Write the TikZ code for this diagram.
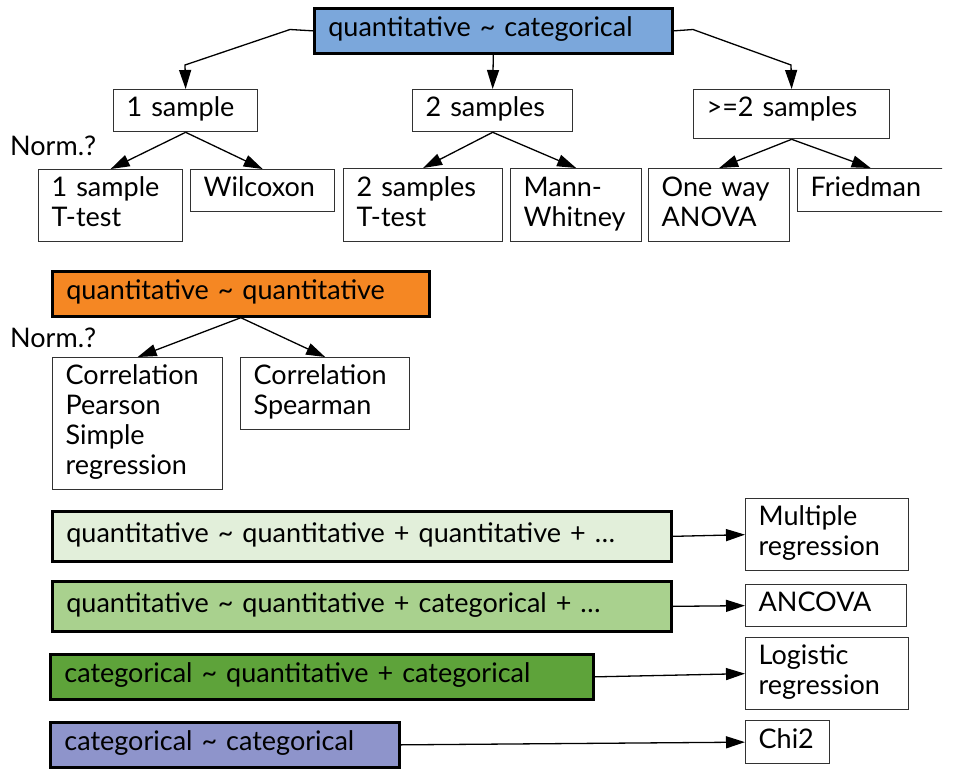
\documentclass[tikz,border=0pt]{standalone}
\usepackage{fontspec}
\setmainfont{Lato}
\usetikzlibrary{arrows.meta}
\definecolor{cblue}{RGB}{123,167,219}
\definecolor{corange}{RGB}{245,135,35}
\definecolor{cgreenA}{RGB}{226,239,218}
\definecolor{cgreenB}{RGB}{169,209,142}
\definecolor{cgreenC}{RGB}{94,163,58}
\definecolor{cpurple}{RGB}{142,148,203}
\definecolor{linec}{RGB}{50,50,50}
\begin{document}
\begin{tikzpicture}[x=1pt,y=-1pt,
  every node/.style={font=\fontsize{27}{30}\selectfont},
  bx/.style n args={3}{draw=linec, line width=1.3pt, anchor=north west,
    minimum width=#1pt, minimum height=#2pt, text width=#3pt,
    inner xsep=13pt, inner ysep=6pt, align=left,
    execute at begin node=\strut, execute at end node=\strut},
  hd/.style={bx={#1}{45}{#1-28}, draw=black, line width=2.7pt, inner xsep=14pt},
  arr/.style={draw=black, line width=1.3pt, -{Triangle[length=19pt,width=12pt]}},
  lbl/.style={anchor=base west, inner sep=0pt}
]
\useasboundingbox (0,0) rectangle (962,772);

% top branch
\node[hd={358}, fill=cblue, text width=330pt] (qc) at (313,7) {quantitative \textasciitilde{} categorical};
\node[bx={144}{42}{118}] (s1) at (113,89) {1 sample};
\node[bx={160}{42}{134}] (s2) at (412,89) {2 samples};
\node[bx={196}{49}{170}, text depth=16pt] (s3) at (693,89) {>=2 samples};

\node[bx={144}{72}{118}] (t1) at (38,169) {1 sample\\T-test};
\node[bx={144}{41}{118}] (wil) at (190,169) {Wilcoxon};
\node[bx={159}{73}{133}] (t2) at (343,168) {2 samples\\T-test};
\node[bx={131}{73}{105}] (mw) at (510,168) {Mann-\\Whitney};
\node[bx={141}{73}{115}] (anova) at (648,168) {One way\\ANOVA};
\begin{scope}
\clip (0,0) rectangle (942,772);
\node[bx={146}{43}{120}] (fried) at (797,168) {Friedman};
\end{scope}

\node[lbl] (norm1) at (10,155) {Norm.?};

\coordinate (c1a) at (290,29.5);
\coordinate (c1b) at (185,65);
\coordinate (c3a) at (693,29.5);
\coordinate (c3b) at (791,65);
\draw[arr] (qc.west) -- (c1a) -- (c1b) -- (s1.north);
\draw[arr] (qc.south) -- (s2.north);
\draw[arr] (qc.east) -- (c3a) -- (c3b) -- (s3.north);

\draw[arr] (s1.south) -- (t1.north);
\draw[arr] (s1.south) -- (wil.north);
\draw[arr] (s2.south) -- (t2.north);
\draw[arr] (s2.south) -- (mw.north);
\draw[arr] (s3.south) -- (anova.north);
\draw[arr] (s3.south) -- (fried.north);

% quantitative ~ quantitative
\node[hd={377}, fill=corange, text width=349pt] (qq) at (51,270) {quantitative \textasciitilde{} quantitative};
\node[lbl] (norm2) at (10,347) {Norm.?};
\node[bx={170}{132}{144}] (pear) at (52,357) {Correlation\\Pearson\\Simple\\regression};
\node[bx={169}{71}{143}] (spear) at (240,357) {Correlation\\Spearman};
\draw[arr] (qq.south) -- (pear.north);
\draw[arr] (qq.south) -- (spear.north);

% bottom rows
\node[hd={619}, minimum height=50pt, fill=cgreenA, text width=591pt] (m1) at (51,510) {quantitative \textasciitilde{} quantitative + quantitative + …};
\node[hd={619}, minimum height=50pt, fill=cgreenB, text width=591pt] (m2) at (51,580) {quantitative \textasciitilde{} quantitative + categorical + …};
\node[hd={543}, fill=cgreenC, text width=515pt] (m3) at (49,653) {categorical \textasciitilde{} quantitative + categorical};
\node[hd={349}, fill=cpurple, text width=321pt] (m4) at (49,721) {categorical \textasciitilde{} categorical};

\node[bx={163}{72}{137}] (mult) at (745,498) {Multiple\\regression};
\node[bx={161}{42}{135}] (ancova) at (745,584) {ANCOVA};
\node[bx={163}{72}{137}] (logit) at (745,637) {Logistic\\regression};
\node[bx={84}{43}{58}] (chi) at (745,720) {Chi2};

\draw[arr] (m1.east) -- (mult.west);
\draw[arr] (m2.east) -- (ancova.west);
\draw[arr] (m3.east) -- (logit.west);
\draw[arr] (m4.east) -- (chi.west);
\end{tikzpicture}
\end{document}
